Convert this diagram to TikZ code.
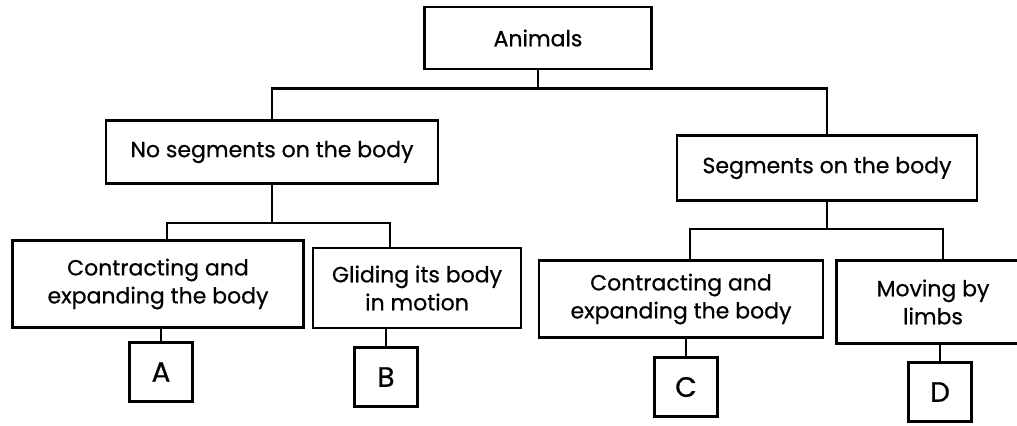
\documentclass[tikz,border=0pt]{standalone}
\usepackage{fontspec}
\setmainfont{Poppins}[FakeBold=0.6]
\usetikzlibrary{positioning, calc}

\begin{document}
\begin{tikzpicture}[
        x=0.5pt, y=-0.5pt,
        box/.style={draw, rectangle, line width=1.4pt, align=center, inner sep=0pt, font=\fontsize{11}{14}\selectfont},
        sz/.style 2 args={minimum width=#1*0.5pt, minimum height=#2*0.5pt},
        leaf/.style={box, sz={63}{59}, font=\fontsize{14}{16}\selectfont},
        link/.style={line width=1.4pt}
    ]
        \useasboundingbox (0,0) rectangle (1017,425);

        % Nodes
        \node[box, sz={227}{62}] (animals) at (538,38) {Animals};
        \node[box, sz={332}{63}] (noseg) at (272,152) {No segments on the body};
        \node[box, sz={300}{65}] (seg) at (827,168) {Segments on the body};
        \node[box, sz={291}{87}] (contL) at (158,284) {Contracting and\\expanding the body};
        \node[box, sz={208}{80}] (glide) at (417,288) {Gliding its body\\in motion};
        \node[box, sz={284}{77}] (contR) at (681,299) {Contracting and\\expanding the body};
        \node[box, sz={193}{83}] (limbs) at (933,302) {Moving by\\limbs};

        % Letter boxes
        \node[leaf] (A) at (161,372) {A};
        \node[leaf] (B) at (386,377) {B};
        \node[leaf] (C) at (686,387) {C};
        \node[leaf] (D) at (940,392) {D};

        % Tree lines
        \coordinate (hub) at ($(animals.south)+(0,18)$);
        \draw[link] (animals.south) -- (hub) -| (noseg.north);
        \draw[link] (hub) -| (seg.north);

        \coordinate (hubL) at ($(noseg.south)+(0,38)$);
        \draw[link] (noseg.south) -- (hubL) -| ($(contL.north)+(9,0)$);
        \draw[link] (hubL) -| ($(glide.north)+(-27,0)$);

        \coordinate (hubR) at ($(seg.south)+(0,27)$);
        \draw[link] (seg.south) -- (hubR) -| ($(contR.north)+(9,0)$);
        \draw[link] (hubR) -| ($(limbs.north)+(10,0)$);

        % Stems to letters
        \draw[link] (A.north) -- (A.north |- contL.south);
        \draw[link] (B.north) -- (B.north |- glide.south);
        \draw[link] (C.north) -- (C.north |- contR.south);
        \draw[link] (D.north) -- (D.north |- limbs.south);
    \end{tikzpicture}
\end{document}
